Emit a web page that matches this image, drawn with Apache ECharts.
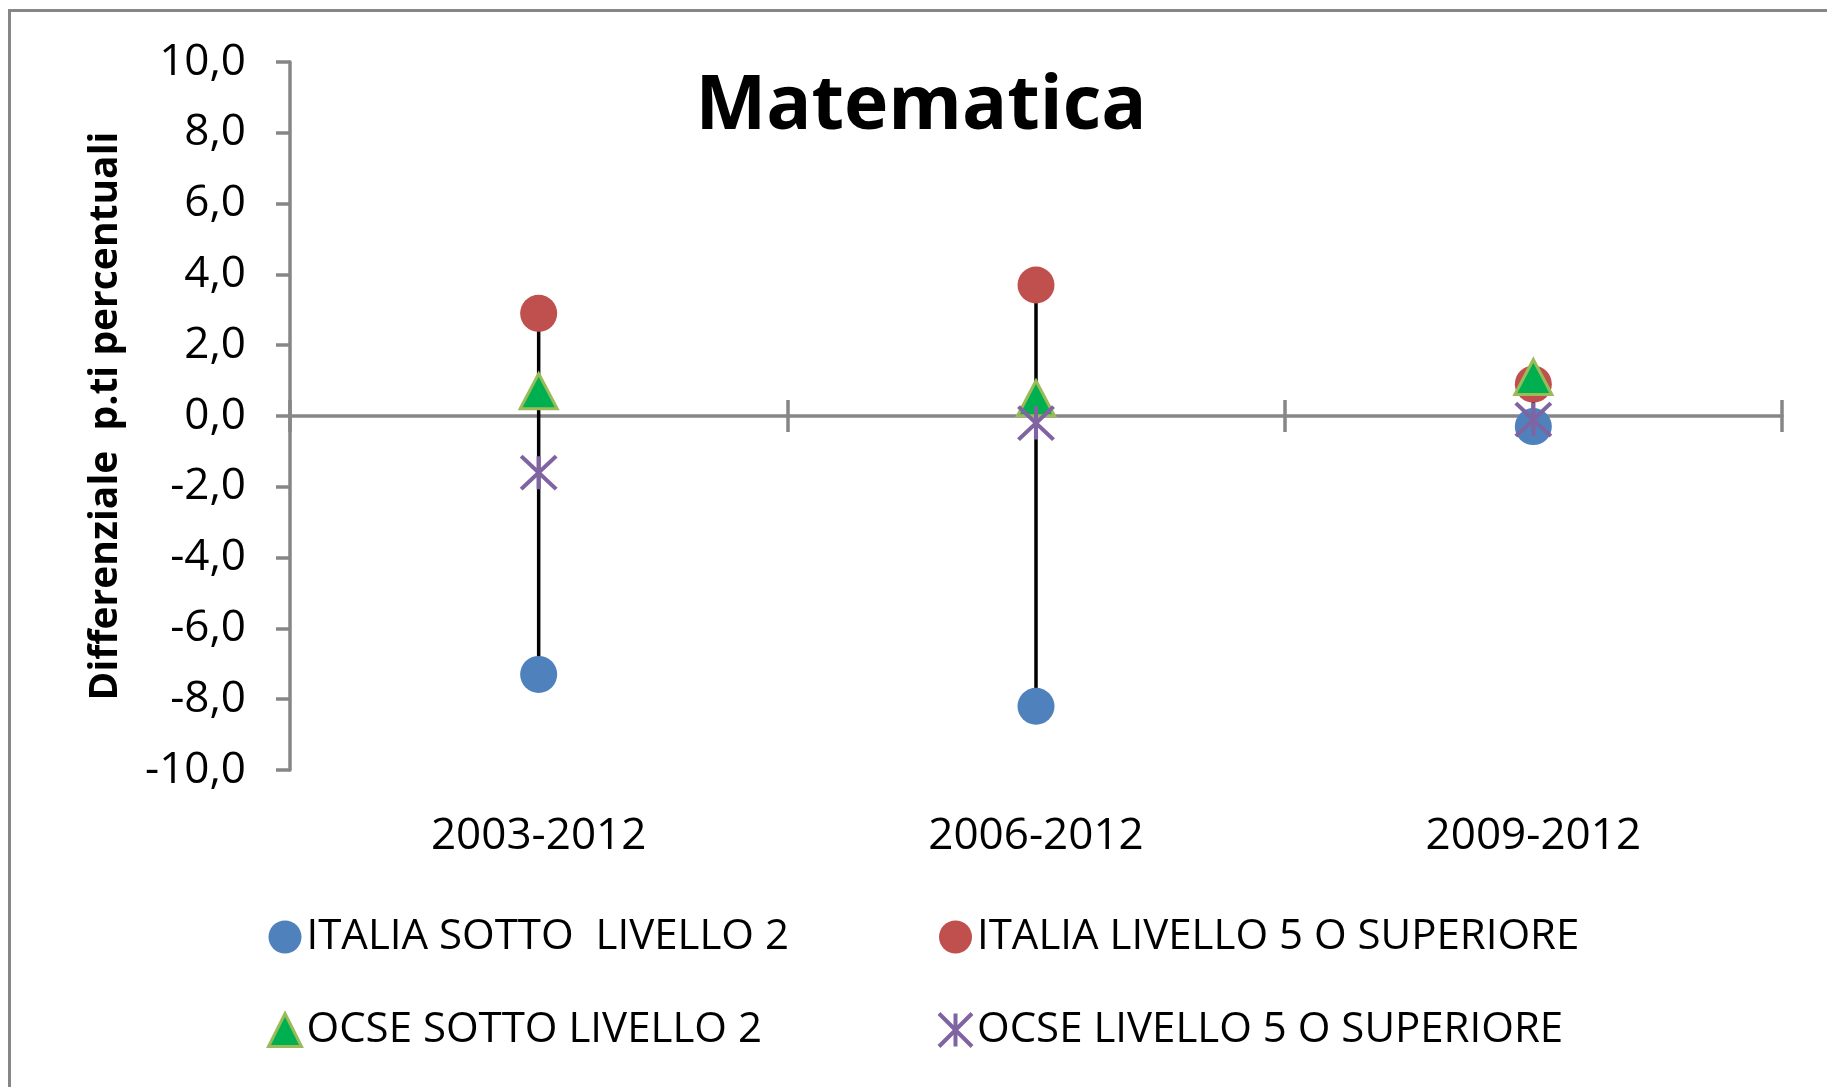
<!DOCTYPE html>
<html lang="it">
<head>
    <meta charset="UTF-8">
    <title>Matematica</title>
    <script src="https://cdn.jsdelivr.net/npm/echarts@6.0.0/dist/echarts.min.js"></script>
    <style type="text/css">
        *{
            margin: 0;
            padding: 0;
        }
        html, body{
            width: 100%;
            height: 100%;
            background: #fff;
        }
        #main{
            width: 1827px;
            height: 1087px;
        }
    </style>
</head>
<body>
    <div id="main"></div>
</body>
<script>
    // dati
    var periodi = ['2003-2012', '2006-2012', '2009-2012'];
    var italiaSotto2 = [-7.3, -8.2, -0.3];
    var italiaLiv5 = [2.9, 3.7, 0.9];
    var ocseSotto2 = [0.7, 0.5, 1.1];
    var ocseLiv5 = [-1.6, -0.2, -0.1];

    var nomi = ['ITALIA SOTTO  LIVELLO 2', 'ITALIA LIVELLO 5 O SUPERIORE', 'OCSE SOTTO LIVELLO 2', 'OCSE LIVELLO 5 O SUPERIORE'];

    var FONT = '"Open Sans", sans-serif';
    var GRIGIO = '#868686';
    var stella = 'path://M0,0L10,10M10,0L0,10M5,0L5,10';

    // linee max-min per ogni periodo
    var lineeMaxMin = [];
    for (var i = 0; i < periodi.length; i++){
        var vals = [italiaSotto2[i], italiaLiv5[i], ocseSotto2[i], ocseLiv5[i]];
        lineeMaxMin.push([i, Math.max.apply(null, vals), Math.min.apply(null, vals)]);
    }

    var griglia = {left: 290, top: 62, width: 1492, height: 708};
    var legendaTesto = {fontFamily: FONT, fontSize: 42, color: '#000'};

    var myChart = echarts.init(document.getElementById('main'));
    var option = {
        backgroundColor: '#fff',
        animation: false,
        title: {
            text: 'Matematica',
            left: 921,
            top: 70,
            padding: 0,
            textAlign: 'center',
            textStyle: {fontFamily: FONT, fontSize: 75, fontWeight: 'bold', color: '#000'}
        },
        graphic: [{
            type: 'rect',
            shape: {x: 9.5, y: 10.5, width: 2000, height: 2000},
            style: {fill: 'none', stroke: GRIGIO, lineWidth: 3},
            silent: true
        }],
        legend: [{
            left: 267, top: 916, padding: 0,
            orient: 'vertical',
            itemWidth: 33, itemHeight: 33, itemGap: 51,
            textStyle: legendaTesto,
            data: [
                {name: nomi[0], icon: 'circle'},
                {name: nomi[2], icon: 'triangle', itemStyle: {borderWidth: 3, borderColor: '#9BBB59'}}
            ]
        }, {
            left: 937, top: 916, padding: 0,
            orient: 'vertical',
            itemWidth: 33, itemHeight: 33, itemGap: 51,
            textStyle: legendaTesto,
            data: [
                {name: nomi[1], icon: 'circle'},
                {name: nomi[3], icon: stella, itemStyle: {borderWidth: 4, borderColor: '#8064A2'}}
            ]
        }],
        grid: [griglia, griglia, griglia],
        xAxis: [{
            // asse sullo zero, tacche verso il basso
            gridIndex: 0, type: 'category', data: periodi, position: 'bottom',
            axisLine: {show: true, onZero: true, lineStyle: {color: GRIGIO, width: 3.5}},
            axisTick: {show: true, interval: 0, alignWithLabel: false, length: 16, lineStyle: {color: GRIGIO, width: 3.5}},
            axisLabel: {show: false}
        }, {
            // tacche verso l'alto
            gridIndex: 1, type: 'category', data: periodi, position: 'bottom',
            axisLine: {show: false, onZero: true},
            axisTick: {show: true, inside: true, interval: 0, alignWithLabel: false, length: 16, lineStyle: {color: GRIGIO, width: 3.5}},
            axisLabel: {show: false}
        }, {
            // solo etichette in basso
            gridIndex: 2, type: 'category', data: periodi, position: 'bottom',
            axisLine: {show: false, onZero: false},
            axisTick: {show: false},
            axisLabel: {margin: 44, fontFamily: FONT, fontSize: 44, color: '#000'}
        }],
        yAxis: [{
            gridIndex: 0, type: 'value', min: -10, max: 10, interval: 2,
            name: 'Differenziale  p.ti percentuali',
            nameLocation: 'middle',
            nameGap: 165,
            nameTextStyle: {fontFamily: FONT, fontSize: 39, fontWeight: 'bold', color: '#000'},
            splitLine: {show: false},
            axisLine: {show: true, lineStyle: {color: GRIGIO, width: 3.5}},
            axisTick: {show: true, length: 14, lineStyle: {color: GRIGIO, width: 3.5}},
            axisLabel: {
                margin: 44, fontFamily: FONT, fontSize: 44, color: '#000',
                formatter: function (v) { return v.toFixed(1).replace('.', ','); }
            }
        }, {
            gridIndex: 1, type: 'value', min: -10, max: 10, show: false
        }, {
            gridIndex: 2, type: 'value', min: -10, max: 10, show: false
        }],
        series: [{
            type: 'custom',
            xAxisIndex: 0, yAxisIndex: 0,
            data: lineeMaxMin,
            encode: {x: 0, y: [1, 2]},
            z: 1,
            silent: true,
            renderItem: function (params, api) {
                var alto = api.coord([api.value(0), api.value(1)]);
                var basso = api.coord([api.value(0), api.value(2)]);
                return {
                    type: 'line',
                    shape: {x1: alto[0], y1: alto[1], x2: basso[0], y2: basso[1]},
                    style: {stroke: '#000', lineWidth: 3.5}
                };
            }
        }, {
            name: nomi[0], type: 'scatter', z: 3,
            symbol: 'circle', symbolSize: 37,
            itemStyle: {color: '#4F81BD', opacity: 1},
            data: italiaSotto2
        }, {
            name: nomi[1], type: 'scatter', z: 3,
            symbol: 'circle', symbolSize: 37,
            itemStyle: {color: '#C0504D', opacity: 1},
            data: italiaLiv5
        }, {
            name: nomi[2], type: 'scatter', z: 3,
            symbol: 'triangle', symbolSize: [37, 35],
            itemStyle: {color: '#00B050', borderColor: '#9BBB59', borderWidth: 3, opacity: 1},
            data: ocseSotto2
        }, {
            name: nomi[3], type: 'scatter', z: 3,
            symbol: stella, symbolSize: [35, 33],
            itemStyle: {color: '#8064A2', borderColor: '#8064A2', borderWidth: 4, opacity: 1},
            data: ocseLiv5
        }]
    };
    myChart.setOption(option);
</script>
</html>
